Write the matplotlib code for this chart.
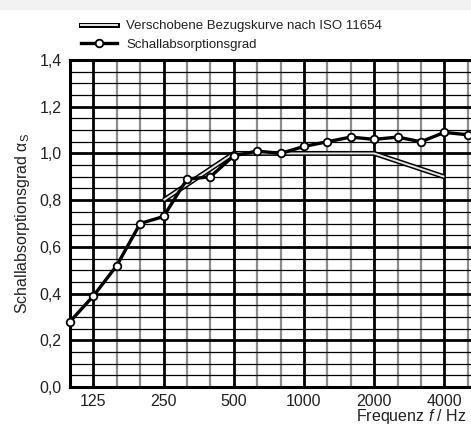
import matplotlib
matplotlib.use("Agg")
import matplotlib.pyplot as plt
from matplotlib.lines import Line2D
from matplotlib.legend_handler import HandlerTuple
import numpy as np

plt.rcParams['font.family'] = ['Liberation Sans', 'DejaVu Sans']
plt.rcParams['mathtext.fontset'] = 'custom'
plt.rcParams['mathtext.rm'] = 'Liberation Sans'
plt.rcParams['mathtext.it'] = 'Liberation Sans:italic'

# third-octave band centre frequencies (Hz)
frequencies = [100, 125, 160, 200, 250, 315, 400, 500, 630, 800,
               1000, 1250, 1600, 2000, 2500, 3150, 4000, 5000]
alpha_measured = [0.28, 0.39, 0.52, 0.70, 0.73, 0.89, 0.90, 0.99, 1.01, 1.00,
                  1.03, 1.05, 1.07, 1.06, 1.07, 1.05, 1.09, 1.08]

# shifted reference curve ISO 11654 (octave bands)
ref_frequencies = [250, 500, 1000, 2000, 4000]
ref_alpha = [0.80, 1.00, 1.00, 1.00, 0.90]

octave_labels = ["125", "250", "500", "1000", "2000", "4000"]
y_ticks = [0.0, 0.2, 0.4, 0.6, 0.8, 1.0, 1.2, 1.4]

# band index as x position (equal spacing of third-octave bands)
idx = {f: i for i, f in enumerate(frequencies)}
x_meas = [idx[f] for f in frequencies]
x_ref = [idx[f] for f in ref_frequencies]
x_oct = [idx[int(l)] for l in octave_labels]

fig = plt.figure(figsize=(4.71, 4.26), dpi=100)
fig.patches.append(plt.Rectangle((0, 1 - 9 / 426), 1, 9 / 426, transform=fig.transFigure,
                                 color="#f2f2f2", zorder=0))
ax = fig.add_axes([70 / 471, 1 - 387 / 426, 1 - 70 / 471, 327 / 426])

ax.set_xlim(0, 17.14)
ax.set_ylim(0, 1.4)

ax.set_xticks(x_oct)
ax.set_xticklabels(octave_labels)
ax.set_xticks([i for i in x_meas if i not in x_oct], minor=True)
ax.set_yticks(y_ticks)
ax.set_yticklabels([f"{v:.1f}".replace(".", ",") for v in y_ticks])
ax.set_yticks(np.arange(0, 1.41, 0.05), minor=True)

ax.grid(True, which="major", axis="x", color="black", lw=2.0)
ax.grid(True, which="minor", axis="x", color="#8c8c8c", lw=1.6)
ax.grid(True, which="major", axis="y", color="black", lw=2.0)
ax.grid(True, which="minor", axis="y", color="black", lw=0.9)
ax.set_axisbelow(True)
ax.tick_params(which="both", length=0, labelsize=11.5, pad=5, colors="#222222")
ax.tick_params(axis="y", pad=6)

for side in ["left", "top", "bottom"]:
    ax.spines[side].set_linewidth(2.2)
ax.spines["right"].set_visible(False)

# reference curve as double line
ax.plot(x_ref, ref_alpha, color="black", lw=3.6, solid_capstyle="butt", zorder=3)
ax.plot(x_ref, ref_alpha, color="#e6e6e6", lw=1.4, solid_capstyle="butt", zorder=3)

ax.plot(x_meas, alpha_measured, color="black", lw=2.4, marker="o", markersize=5.5,
        markerfacecolor="white", markeredgecolor="black", markeredgewidth=1.3,
        zorder=4, clip_on=False)

ax.set_ylabel("Schallabsorptionsgrad α$_\\mathregular{S}$", fontsize=11.5, labelpad=5,
              color="#222222")
fig.text(467 / 471, 1 - 417 / 426, "Frequenz $\\mathit{f}$ / Hz", ha="right", va="center",
         fontsize=11.5, color="#222222")

h_ref = (Line2D([], [], color="black", lw=3.6), Line2D([], [], color="#e6e6e6", lw=1.4))
h_meas = Line2D([], [], color="black", lw=2.4, marker="o", markersize=5.5,
                markerfacecolor="white", markeredgecolor="black", markeredgewidth=1.3)
fig.legend([h_ref, h_meas],
           ["Verschobene Bezugskurve nach ISO 11654", "Schallabsorptionsgrad"],
           handler_map={tuple: HandlerTuple(ndivide=1)},
           loc="upper left", bbox_to_anchor=(72 / 471, 1 - 11 / 426),
           frameon=False, fontsize=9.5, handlelength=2.7, handletextpad=0.7,
           labelspacing=0.45, borderpad=0.2, labelcolor="#222222")

fig.savefig("out.png", dpi=100)
